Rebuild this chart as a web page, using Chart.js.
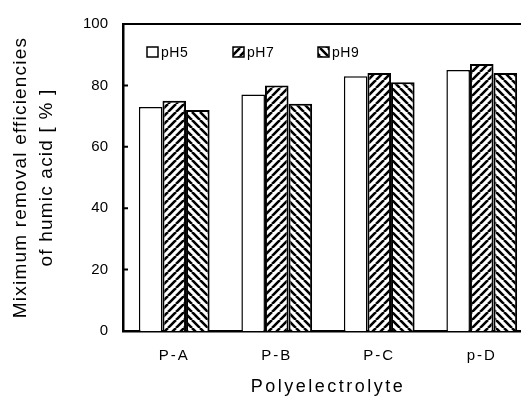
<!DOCTYPE html>
<html lang="en">
<head>
    <meta charset="UTF-8">
    <title>Maximum removal efficiencies of humic acid</title>
    <script src="https://cdn.jsdelivr.net/npm/chart.js@4.4.1/dist/chart.umd.min.js"></script>
    <style>
        html, body {
            margin: 0;
            padding: 0;
            background: #fff;
            overflow: hidden;
        }
        #chartContainer {
            width: 536px;
            height: 396px;
        }
    </style>
</head>
<body>
    <div id="chartContainer">
        <canvas id="myChart"></canvas>
    </div>
    <script>
        // data
        const categories = ['P-A', 'P-B', 'P-C', 'p-D'];
        const seriesNames = ['pH5', 'pH7', 'pH9'];
        const ph5Values = [73, 77, 83, 85];
        const ph7Values = [75, 80, 84, 87];
        const ph9Values = [72, 74, 81, 84];
        const yTickValues = [0, 20, 40, 60, 80, 100];

        // hatch fills: 'up' = "/", 'down' = "\"
        function hatch(dir) {
            const c = document.createElement('canvas');
            c.width = 8;
            c.height = 8;
            const g = c.getContext('2d');
            g.fillStyle = '#fff';
            g.fillRect(0, 0, 8, 8);
            g.strokeStyle = '#000';
            g.lineWidth = 2.6;
            g.beginPath();
            [-8, 0, 8].forEach(k => {
                if (dir === 'up') {
                    g.moveTo(k, 8);
                    g.lineTo(k + 8, 0);
                } else {
                    g.moveTo(k, 0);
                    g.lineTo(k + 8, 8);
                }
            });
            g.stroke();
            return g.createPattern(c, 'repeat');
        }

        // canvas letterSpacing for some of the scale texts
        function spaced(fn, sp) {
            return function (...args) {
                const old = this.ctx.letterSpacing;
                this.ctx.letterSpacing = sp;
                fn.apply(this, args);
                this.ctx.letterSpacing = old;
            };
        }
        const spacing = {
            id: 'spacing',
            beforeDraw(chart) {
                const x = chart.scales.x, y = chart.scales.y;
                if (!x._sp) {
                    x.drawLabels = spaced(x.drawLabels, '2px');
                    x.drawTitle = spaced(x.drawTitle, '2.5px');
                    x._sp = true;
                }
                if (!y._sp) {
                    y.drawTitle = spaced(y.drawTitle, '1.2px');
                    y._sp = true;
                }
            }
        };

        // inside ticks on the y axis + top frame line
        const frame = {
            id: 'frame',
            afterDraw(chart) {
                const {ctx, chartArea, scales: {y}} = chart;
                ctx.save();
                ctx.strokeStyle = '#000';
                ctx.lineWidth = 2;
                ctx.beginPath();
                y.ticks.forEach(t => {
                    const py = y.getPixelForValue(t.value);
                    ctx.moveTo(chartArea.left, py);
                    ctx.lineTo(chartArea.left + 5, py);
                });
                ctx.moveTo(chartArea.left, chartArea.top);
                ctx.lineTo(chartArea.right, chartArea.top);
                ctx.stroke();
                ctx.restore();
            }
        };

        // legend drawn inside the plot, top left
        const legendInside = {
            id: 'legendInside',
            afterDraw(chart) {
                const {ctx, chartArea} = chart;
                const offsets = [24, 110, 195];
                ctx.save();
                ctx.font = '14px "Liberation Sans", Arial, sans-serif';
                ctx.letterSpacing = '0.5px';
                ctx.textBaseline = 'middle';
                chart.data.datasets.forEach((ds, i) => {
                    const bx = chartArea.left + offsets[i];
                    const by = chartArea.top + 23;
                    ctx.fillStyle = ds.backgroundColor;
                    ctx.fillRect(bx, by, 11, 10);
                    ctx.lineWidth = 1.5;
                    ctx.strokeStyle = '#000';
                    ctx.strokeRect(bx, by, 11, 10);
                    ctx.fillStyle = '#000';
                    ctx.fillText(ds.label, bx + 14, by + 6);
                });
                ctx.restore();
            }
        };

        Chart.defaults.font.family = '"Liberation Sans", Arial, sans-serif';
        Chart.defaults.color = '#000';

        const ctx = document.getElementById('myChart').getContext('2d');
        new Chart(ctx, {
            type: 'bar',
            data: {
                labels: categories,
                datasets: [
                    { label: seriesNames[0], data: ph5Values, backgroundColor: '#fff', borderColor: '#000', borderWidth: 1.5 },
                    { label: seriesNames[1], data: ph7Values, backgroundColor: hatch('up'), borderColor: '#000', borderWidth: 2 },
                    { label: seriesNames[2], data: ph9Values, backgroundColor: hatch('down'), borderColor: '#000', borderWidth: 2 }
                ]
            },
            options: {
                responsive: true,
                maintainAspectRatio: false,
                animation: false,
                layout: { padding: { top: 17, right: 3, left: 0, bottom: 0 } },
                datasets: { bar: { categoryPercentage: 0.69, barPercentage: 1.0 } },
                plugins: {
                    legend: { display: false },
                    tooltip: { enabled: false }
                },
                scales: {
                    x: {
                        grid: { display: false, drawTicks: false },
                        border: { display: true, color: '#000', width: 2.5 },
                        ticks: { font: { size: 15 }, padding: 16 },
                        title: {
                            display: true,
                            text: 'Polyelectrolyte',
                            font: { size: 18, lineHeight: 1 },
                            padding: { top: 0, bottom: 0 }
                        },
                        afterFit: s => { s.height = 65; }
                    },
                    y: {
                        min: 0,
                        max: 100,
                        grid: { display: false, drawTicks: false },
                        border: { display: true, color: '#000', width: 2.5 },
                        ticks: { font: { size: 15 }, padding: 15, stepSize: 20 },
                        afterBuildTicks: s => { s.ticks = yTickValues.map(v => ({ value: v })); },
                        title: {
                            display: true,
                            text: ['Miximum removal efficiencies', 'of humic acid [ % ]'],
                            font: { size: 19, lineHeight: '26px' },
                            padding: { top: 8, bottom: 0 }
                        },
                        afterFit: s => { s.width = 123; }
                    }
                }
            },
            plugins: [spacing, frame, legendInside]
        });
    </script>
</body>
</html>
